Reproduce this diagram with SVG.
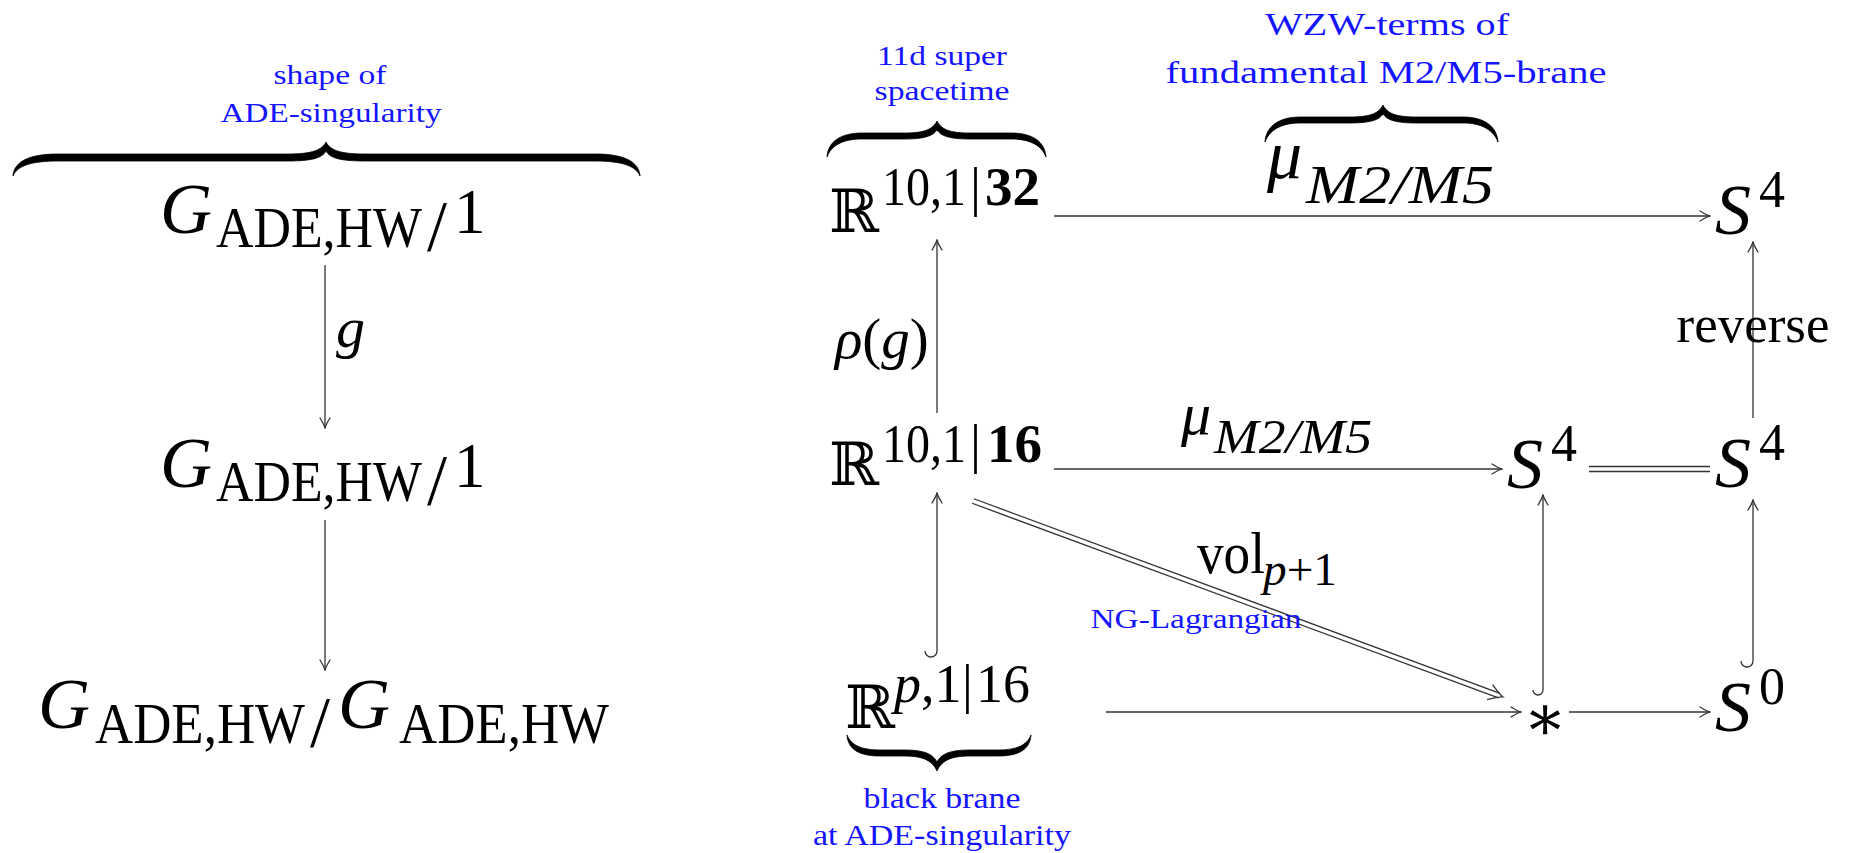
<svg xmlns="http://www.w3.org/2000/svg" width="1849" height="853" viewBox="0 0 1849 853">
<style>
text { font-family: "Liberation Serif", "DejaVu Serif", serif; fill: #000; }
.mi { font-style: italic; }
.bb { font-family: "DejaVu Serif", "Liberation Serif", serif; }
.bf { font-weight: bold; }
.blue { fill: #1414ff; }
.edge { stroke: #333; stroke-width: 1.3; fill: none; }
.arr { marker-end: url(#to); }
.brace { fill: #000; stroke: #000; stroke-width: 0.8; }
</style>
<defs>
<marker id="to" viewBox="-11 -6 12 12" refX="0" refY="0" markerWidth="12" markerHeight="12" orient="auto" markerUnits="userSpaceOnUse">
<path d="M-10,-5 C-5.5,-2.2 -2,-0.6 0,0 C-2,0.6 -5.5,2.2 -10,5" fill="none" stroke="#333" stroke-width="1.3" stroke-linecap="round"/>
</marker>
</defs>
<rect width="1849" height="853" fill="#fff"/>

<!-- left column -->
<g id="label-shape">
<text class="blue" x="330" y="84" font-size="28" text-anchor="middle" textLength="113" lengthAdjust="spacingAndGlyphs">shape of</text>
<text class="blue" x="331" y="122" font-size="28" text-anchor="middle" textLength="221" lengthAdjust="spacingAndGlyphs">ADE-singularity</text>
<path class="brace" d="M13,176 C14,162 28,154 58,154 L288,154 C312,154 322,150 326,142 C330,150 340,154 364,154 L595,154 C625,154 639,162 640,176 C636,166 622,161 595,161 L364,161 C340,161 330,158 326,151 C322,158 312,161 288,161 L58,161 C31,161 17,166 13,176 Z"/>
</g>
<g id="node-G1-top">
<text class="mi" x="160" y="233" font-size="72">G</text>
<text x="216" y="247" font-size="58" textLength="206" lengthAdjust="spacingAndGlyphs">ADE,HW</text>
<text x="427" y="250" font-size="72">/</text>
<text x="454" y="233" font-size="63">1</text>
</g>
<g id="node-G1-mid">
<text class="mi" x="160" y="487" font-size="72">G</text>
<text x="216" y="501" font-size="58" textLength="206" lengthAdjust="spacingAndGlyphs">ADE,HW</text>
<text x="427" y="504" font-size="72">/</text>
<text x="454" y="487" font-size="63">1</text>
</g>
<g id="node-GG">
<text class="mi" x="38" y="728" font-size="72">G</text>
<text x="95" y="743" font-size="58" textLength="210" lengthAdjust="spacingAndGlyphs">ADE,HW</text>
<text x="310" y="746" font-size="72">/</text>
<text class="mi" x="338" y="728" font-size="72">G</text>
<text x="399" y="743" font-size="58" textLength="210" lengthAdjust="spacingAndGlyphs">ADE,HW</text>
</g>

<!-- right part nodes -->
<g id="label-spacetime">
<text class="blue" x="942" y="65" font-size="28" text-anchor="middle" textLength="130" lengthAdjust="spacingAndGlyphs">11d super</text>
<text class="blue" x="942" y="100" font-size="28" text-anchor="middle" textLength="135" lengthAdjust="spacingAndGlyphs">spacetime</text>
<path class="brace" d="M827,157 C828,142 840,133 862,133 L905,133 C925,133 933,129 937,121 C941,129 949,133 969,133 L1011,133 C1033,133 1045,142 1046,157 C1042,146 1031,139 1011,139 L969,139 C950,139 941,136 937,130 C933,136 924,139 905,139 L862,139 C842,139 831,146 827,157 Z"/>
</g>
<g id="node-R32">
<text class="bb" x="829" y="232" font-size="60">ℝ</text>
<text x="882" y="205" font-size="55"><tspan textLength="84" lengthAdjust="spacingAndGlyphs">10,1</tspan><tspan x="970">|</tspan><tspan class="bf" x="985">32</tspan></text>
</g>
<g id="node-R16">
<text class="bb" x="829" y="485" font-size="60">ℝ</text>
<text x="882" y="462" font-size="55"><tspan textLength="84" lengthAdjust="spacingAndGlyphs">10,1</tspan><tspan x="970">|</tspan><tspan class="bf" x="987">16</tspan></text>
</g>
<g id="node-Rp">
<text class="bb" x="845" y="728" font-size="60">ℝ</text>
<text x="894" y="702" font-size="54"><tspan class="mi">p</tspan>,1<tspan x="962">|</tspan><tspan x="976">16</tspan></text>
<path class="brace" d="M847,735 C848,750 860,756 880,756 L905,756 C925,756 933,762 937,771 C941,762 949,756 969,756 L998,756 C1018,756 1030,750 1031,735 C1027,745 1017,750 998,750 L969,750 C950,750 941,754 937,762 C933,754 924,750 905,750 L880,750 C861,750 851,745 847,735 Z"/>
<text class="blue" x="942" y="808" font-size="30" text-anchor="middle" textLength="157" lengthAdjust="spacingAndGlyphs">black brane</text>
<text class="blue" x="942" y="845" font-size="30" text-anchor="middle" textLength="258" lengthAdjust="spacingAndGlyphs">at ADE-singularity</text>
</g>
<g id="node-S4-top">
<text class="mi" x="1715" y="234" font-size="72">S</text>
<text x="1759" y="207" font-size="52">4</text>
</g>
<g id="node-S4-mid">
<text class="mi" x="1507" y="488" font-size="72">S</text>
<text x="1551" y="461" font-size="52">4</text>
</g>
<g id="node-S4-right">
<text class="mi" x="1715" y="487" font-size="72">S</text>
<text x="1759" y="460" font-size="52">4</text>
</g>
<g id="node-star">
<text class="bb" x="1545" y="740" font-size="64" text-anchor="middle">∗</text>
</g>
<g id="node-S0">
<text class="mi" x="1715" y="731" font-size="72">S</text>
<text x="1759" y="704" font-size="52">0</text>
</g>

<!-- connectors -->
<g id="connectors">
<line class="edge arr" x1="325" y1="265" x2="325" y2="428"/>
<line class="edge arr" x1="325" y1="520" x2="325" y2="670"/>
<line class="edge arr" x1="1054" y1="216" x2="1710" y2="216"/>
<line class="edge arr" x1="937" y1="413" x2="937" y2="240"/>
<line class="edge arr" x1="1753" y1="418" x2="1753" y2="242"/>
<line class="edge arr" x1="1054" y1="469" x2="1502" y2="469"/>
<line class="edge" x1="1589" y1="466.5" x2="1710" y2="466.5"/>
<line class="edge" x1="1589" y1="471.5" x2="1710" y2="471.5"/>
<path class="edge arr" d="M925,651 A6,6 0 0 0 937,651 L937,493"/>
<path class="edge arr" d="M1533,690 A5,5 0 0 0 1543,690 L1543,495"/>
<path class="edge arr" d="M1741,661 A6,6 0 0 0 1753,661 L1753,500"/>
<line class="edge arr" x1="1106" y1="712" x2="1521" y2="712"/>
<line class="edge arr" x1="1569" y1="712" x2="1710" y2="712"/>
<g transform="translate(973,501) rotate(20.29)">
<line class="edge" x1="0" y1="-2.4" x2="561" y2="-2.4"/>
<line class="edge" x1="0" y1="2.4" x2="561" y2="2.4"/>
<path class="edge" d="M551,-8 C557,-4.2 561,-1.2 565,0 C561,1.2 557,4.2 551,8"/>
</g>
</g>

<!-- edge labels -->
<g id="edge-labels">
<text class="mi" x="336" y="347" font-size="58">g</text>
<text x="835" y="358" font-size="57"><tspan class="mi">ρ</tspan>(<tspan class="mi">g</tspan>)</text>
<text x="1753" y="342" font-size="53" text-anchor="middle">reverse</text>
<text class="mi" x="1181" y="434" font-size="60">μ</text>
<text class="mi" x="1214" y="453" font-size="48" textLength="158" lengthAdjust="spacingAndGlyphs">M2/M5</text>
<text x="1197" y="573" font-size="60" textLength="68" lengthAdjust="spacingAndGlyphs">vol</text>
<text class="mi" x="1263" y="585" font-size="46" textLength="74" lengthAdjust="spacingAndGlyphs">p<tspan font-style="normal">+1</tspan></text>
<text class="blue" x="1196" y="628" font-size="28" text-anchor="middle" textLength="211" lengthAdjust="spacingAndGlyphs">NG-Lagrangian</text>
</g>
<g id="label-WZW">
<text class="blue" x="1387" y="35" font-size="32" text-anchor="middle" textLength="244" lengthAdjust="spacingAndGlyphs">WZW-terms of</text>
<text class="blue" x="1386" y="83" font-size="32" text-anchor="middle" textLength="441" lengthAdjust="spacingAndGlyphs">fundamental M2/M5-brane</text>
<path class="brace" d="M1265,142 C1266,127 1278,117 1300,117 L1350,117 C1371,117 1379,113 1383,105 C1387,113 1395,117 1416,117 L1463,117 C1485,117 1497,127 1498,142 C1494,131 1483,123 1463,123 L1416,123 C1396,123 1387,120 1383,114 C1379,120 1370,123 1350,123 L1300,123 C1280,123 1269,131 1265,142 Z"/>
<text class="mi" x="1267" y="178" font-size="70">μ</text>
<text class="mi" x="1306" y="203" font-size="54" textLength="188" lengthAdjust="spacingAndGlyphs">M2/M5</text>
</g>
</svg>
